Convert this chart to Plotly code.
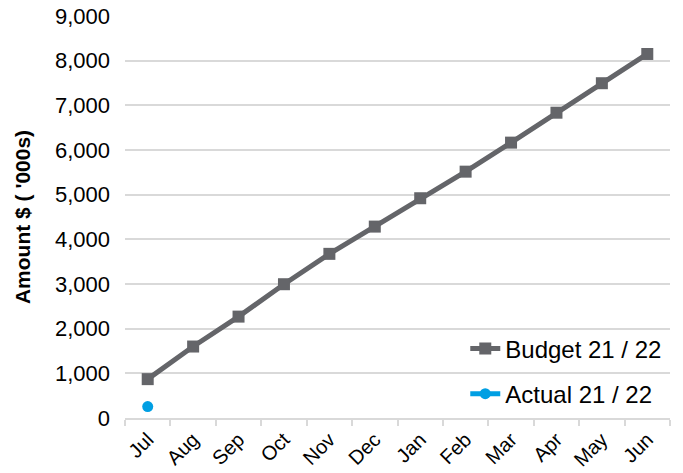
import plotly.graph_objects as go

months = ["Jul", "Aug", "Sep", "Oct", "Nov", "Dec", "Jan", "Feb", "Mar", "Apr", "May", "Jun"]
budget = [870, 1600, 2270, 2995, 3675, 4285, 4920, 5515, 6165, 6835, 7495, 8150]
actual_months = ["Jul"]
actual = [255]
y_ticks = [0, 1000, 2000, 3000, 4000, 5000, 6000, 7000, 8000, 9000]

FONT = "Liberation Sans, Arial, sans-serif"

fig = go.Figure()
fig.add_trace(go.Scatter(
    x=months, y=budget, name="Budget 21 / 22", mode="lines+markers",
    line=dict(color="#646569", width=5),
    marker=dict(symbol="square", size=12, color="#646569"),
    legendgroup="b",
))
fig.add_trace(go.Scatter(
    x=actual_months, y=actual, name="Actual 21 / 22", mode="lines+markers",
    line=dict(color="#009FE3", width=5),
    marker=dict(symbol="circle", size=11, color="#009FE3"),
    legendgroup="a",
))

fig.update_layout(
    width=683, height=473,
    margin=dict(l=125, r=13, t=16, b=55),
    paper_bgcolor="white", plot_bgcolor="white",
    font=dict(family=FONT, size=21, color="#000000"),
    showlegend=True,
    legend=dict(
        x=0.995, y=0.228, xanchor="right", yanchor="top",
        bgcolor="rgba(255,255,255,0)", font=dict(size=24),
        tracegroupgap=11,
    ),
    xaxis=dict(
        type="category", categoryorder="array", categoryarray=months,
        range=[-0.5, 11.5], automargin=False,
        tickangle=-45, tickfont=dict(size=20),
        showgrid=False, showline=True, linecolor="#D9D9D9", linewidth=2,
        ticks="outside", tickson="boundaries", ticklen=6, tickcolor="#D9D9D9", tickwidth=2,
    ),
    yaxis=dict(
        range=[0, 9000], tickvals=y_ticks, automargin=False,
        tickformat=",d", tickfont=dict(size=22),
        showgrid=True, gridcolor="#D9D9D9", gridwidth=2,
        zeroline=False, showline=False, ticks="", ticklabelstandoff=14,
        title=dict(text="<b>Amount $ ( '000s)</b>", font=dict(size=21), standoff=18),
    ),
)

fig.write_html("out.html")
